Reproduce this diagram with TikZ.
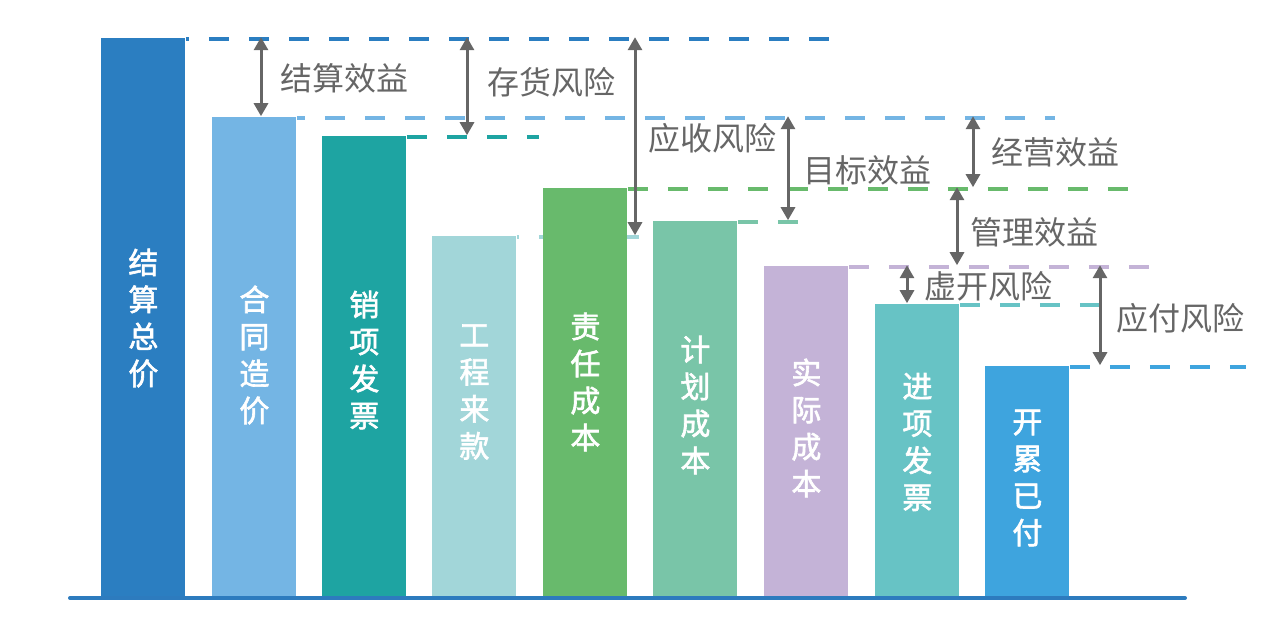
\documentclass[tikz,border=0pt]{standalone}
\usepackage{fontspec}
\setmainfont{Noto Sans CJK SC}
\newfontfamily\barfont{Noto Sans CJK SC}[BoldFont={Noto Sans CJK SC}, BoldFeatures={FakeBold=2}]
\usepackage{tikz}
\usetikzlibrary{arrows.meta, positioning, backgrounds}
\usepackage{xcolor}
\definecolor{barone}{HTML}{2B7EC1}
\definecolor{bartwo}{HTML}{74B5E4}
\definecolor{barthree}{HTML}{1EA4A2}
\definecolor{barfour}{HTML}{A2D6D9}
\definecolor{barfive}{HTML}{68BA6C}
\definecolor{barsix}{HTML}{79C5A8}
\definecolor{barseven}{HTML}{C4B3D7}
\definecolor{bareight}{HTML}{67C3C5}
\definecolor{barnine}{HTML}{3EA4DE}
\definecolor{dimgray}{HTML}{666666}
\definecolor{axisblue}{HTML}{2D7BBE}

\begin{document}
\begin{tikzpicture}[x=0.5pt, y=-0.5pt,
  bar/.style={rectangle, inner sep=0pt, minimum width=42pt, anchor=south west},
  barlabel/.style={text=white, font=\barfont\bfseries\fontsize{15}{18.5}\selectfont, align=center, inner sep=0pt},
  guide/.style={line width=1.8pt, dash pattern=on 10pt off 10pt},
  dim/.style={draw=dimgray, line width=1.5pt,
    {Triangle[width=7pt,length=6.5pt]}-{Triangle[width=7pt,length=6.5pt]}},
  note/.style={text=dimgray, font=\fontsize{16}{16}\selectfont, anchor=west, inner sep=0pt}]

\useasboundingbox (0,0) rectangle (1285,634);

% bars
\node[bar, fill=barone,   minimum height=279.5pt] (b1) at (101,597) {};
\node[bar, fill=bartwo,   minimum height=240pt]   (b2) at (212,597) {};
\node[bar, fill=barthree, minimum height=230.5pt] (b3) at (322,597) {};
\node[bar, fill=barfour,  minimum height=180.5pt] (b4) at (432,597) {};
\node[bar, fill=barfive,  minimum height=204.5pt] (b5) at (543,597) {};
\node[bar, fill=barsix,   minimum height=188pt]   (b6) at (653,597) {};
\node[bar, fill=barseven, minimum height=165.5pt] (b7) at (764,597) {};
\node[bar, fill=bareight, minimum height=146.5pt] (b8) at (875,597) {};
\node[bar, fill=barnine,  minimum height=115.5pt] (b9) at (985,597) {};

% bar texts
\node[barlabel] (t1) at (b1.center |- 0,318) {结\\算\\总\\价};
\node[barlabel] (t2) at (b2.center |- 0,355) {合\\同\\造\\价};
\node[barlabel] (t3) at (b3.center |- 0,360) {销\\项\\发\\票};
\node[barlabel] (t4) at (b4.center |- 0,392) {工\\程\\来\\款};
\node[barlabel] (t5) at (b5.center |- 0,382) {责\\任\\成\\本};
\node[barlabel] (t6) at (b6.center |- 0,405) {计\\划\\成\\本};
\node[barlabel] (t7) at (b7.center |- 0,428) {实\\际\\成\\本};
\node[barlabel] (t8) at (b8.center |- 0,442) {进\\项\\发\\票};
\node[barlabel] (t9) at (b9.center |- 0,478) {开\\累\\已\\付};

% dashed guide lines behind the bars
\begin{scope}[on background layer]
\draw[guide, barone, dash phase=8.5pt] ([yshift=-0.9pt]b1.north east) -- ++(650,0);
\draw[guide, bartwo, dash phase=6pt]   ([yshift=-0.9pt]b2.north east) -- ++(758,0);
\draw[guide, barthree] ([yshift=-0.9pt]b3.north east) -- ++(132,0);
\draw[guide, barfour, dash phase=9pt]  ([yshift=-0.9pt]b4.north east) -- ++(127,0);
\draw[guide, barfive]  ([yshift=-0.9pt]b5.north east) -- ++(509,0);
\draw[guide, barsix]   ([yshift=-0.9pt]b6.north east) -- ++(79,0);
\draw[guide, barseven] ([yshift=-0.9pt]b7.north east) -- ++(310,0);
\draw[guide, bareight] ([yshift=-0.9pt]b8.north east) -- ++(146,0);
\draw[guide, barnine]  ([yshift=-0.9pt]b9.north east) -- ++(176,0);
\end{scope}

% base line
\draw[axisblue, line width=2pt, line cap=round] (70,598) -- (1185,598);

% differences
\draw[dim] (261,0 |- b1.north) -- (261,0 |- b2.north);
\draw[dim] (467,0 |- b1.north) -- (467,0 |- b3.north);
\draw[dim] (635,0 |- b1.north) -- (635,0 |- b4.north);
\draw[dim] (788,0 |- b2.north) -- (788,0 |- b6.north);
\draw[dim] (973,0 |- b2.north) -- (973,0 |- b5.north);
\draw[dim] (957,0 |- b5.north) -- (957,0 |- b7.north);
\draw[dim] (907,0 |- b7.north) -- (907,0 |- b8.north);
\draw[dim] (1100,0 |- b7.north) -- (1100,0 |- b9.north);

\node[note] (jsxy) at (280,78)  {结算效益};
\node[note] (chfx) at (487,82)  {存货风险};
\node[note] (ysfx) at (648,138) {应收风险};
\node[note] (mbxy) at (803,170) {目标效益};
\node[note] (jyxy) at (991,152) {经营效益};
\node[note] (glxy) at (970,232) {管理效益};
\node[note] (xkfx) at (924,286) {虚开风险};
\node[note] (yffx) at (1116,318) {应付风险};
\end{tikzpicture}
\end{document}
